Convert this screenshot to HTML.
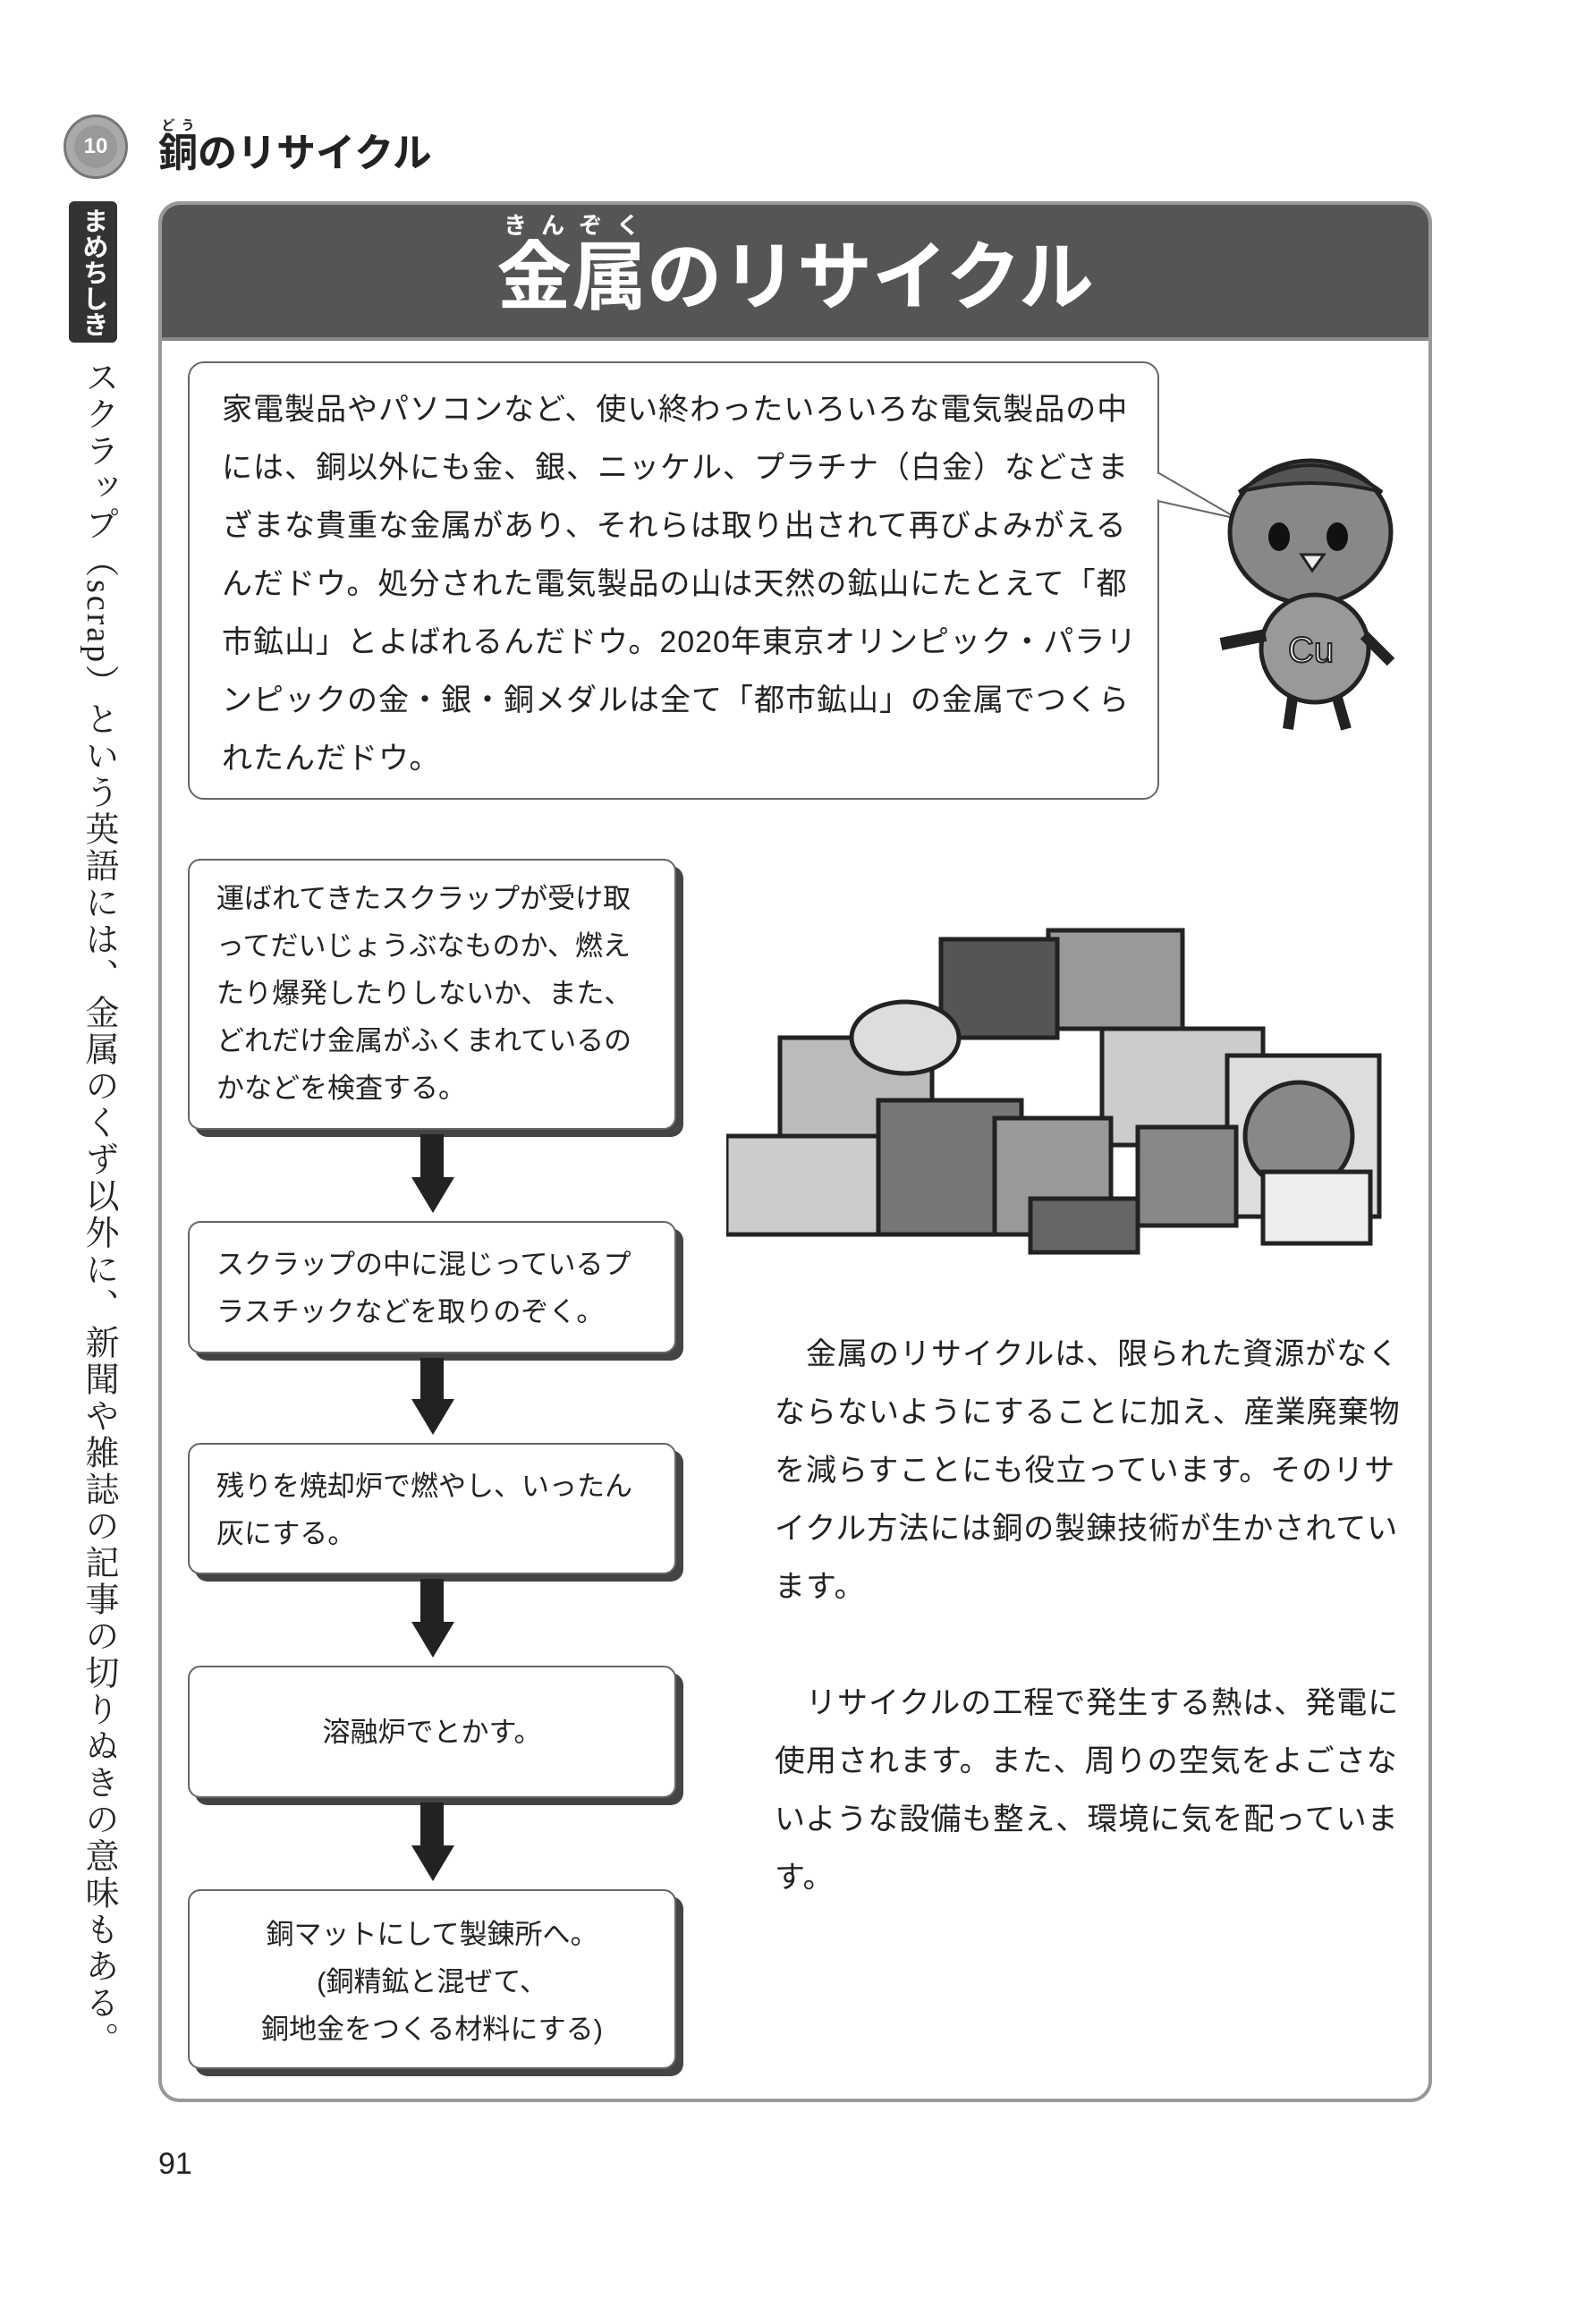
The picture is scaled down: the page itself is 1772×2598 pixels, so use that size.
<!DOCTYPE html>
<html><head><meta charset="utf-8">
<style>
body{margin:0;background:#fff;}
#p{position:relative;width:1772px;height:2598px;overflow:hidden;font-family:"Liberation Sans","Noto Sans CJK JP",sans-serif;color:#222;}
.a{position:absolute;}
rt{font-size:15px;}
.box{position:absolute;left:210px;width:546px;border:2px solid #666;border-radius:14px;background:#fff;box-shadow:8px 8px 0 #444;font-size:31px;line-height:53px;padding:16px 30px;box-sizing:border-box;white-space:nowrap;}
.arr{position:absolute;left:470px;width:26px;background:#222;}
.ah{position:absolute;left:460px;width:0;height:0;border-left:24px solid transparent;border-right:24px solid transparent;border-top:40px solid #222;}
.txt{font-size:34px;line-height:65px;white-space:nowrap;letter-spacing:1px;}
</style></head><body><div id="p">
<div class="a" style="left:71px;top:128px;width:72px;height:72px;border-radius:50%;background:#aaa;border:3px solid #777;box-sizing:border-box;"></div>
<div class="a" style="left:83px;top:140px;width:48px;height:48px;border-radius:50%;background:#999;color:#fff;font-size:24px;font-weight:bold;text-align:center;line-height:48px;">10</div>
<div class="a" style="left:177px;top:132px;font-size:44px;font-weight:bold;"><ruby>銅<rt>どう</rt></ruby>のリサイクル</div>
<div class="a" style="left:77px;top:225px;width:54px;height:158px;background:#333;border-radius:6px;color:#fff;writing-mode:vertical-rl;font-size:29px;font-weight:bold;line-height:54px;text-align:center;white-space:nowrap;">まめちしき</div>
<div class="a" style="left:84px;top:402px;height:1780px;writing-mode:vertical-rl;font-size:38px;letter-spacing:3px;line-height:52px;white-space:nowrap;font-family:'Liberation Serif','Noto Serif CJK SC',serif;">スクラップ（scrap）という英語には、金属のくず以外に、新聞や雑誌の記事の切りぬきの意味もある。</div>
<div class="a" style="left:177px;top:225px;width:1424px;height:2125px;border:4px solid #999;border-radius:24px;box-sizing:border-box;overflow:hidden;height:2125px;">
 <div style="height:148px;background:#555;border-bottom:4px solid #888;"></div>
</div>
<div class="a" style="left:177px;top:238px;width:1424px;text-align:center;color:#fff;font-size:84px;font-weight:bold;line-height:120px;"><ruby>金属<rt style="font-size:26px;">きんぞく</rt></ruby>のリサイクル</div>
<div class="a txt" style="left:210px;top:404px;width:1086px;height:490px;border:2px solid #666;border-radius:18px;box-sizing:border-box;padding:20px 0 0 36px;">家電製品やパソコンなど、使い終わったいろいろな電気製品の中<br>には、銅以外にも金、銀、ニッケル、プラチナ（白金）などさま<br>ざまな貴重な金属があり、それらは取り出されて再びよみがえる<br>んだドウ。処分された電気製品の山は天然の鉱山にたとえて「都<br>市鉱山」とよばれるんだドウ。2020年東京オリンピック・パラリ<br>ンピックの金・銀・銅メダルは全て「都市鉱山」の金属でつくら<br>れたんだドウ。</div>
<svg class="a" style="left:1294px;top:520px" width="100" height="70"><polygon points="0,8 90,60 0,40" fill="#fff" stroke="#666" stroke-width="2"/><line x1="0" y1="10" x2="0" y2="38" stroke="#fff" stroke-width="4"/></svg>
<svg class="a" style="left:1345px;top:500px" width="240" height="330">
<ellipse cx="120" cy="95" rx="90" ry="80" fill="#888" stroke="#222" stroke-width="5"/>
<path d="M40 50 Q120 -10 200 50 Q120 30 40 50" fill="#555" stroke="#222" stroke-width="4"/>
<ellipse cx="85" cy="100" rx="12" ry="16" fill="#111"/><ellipse cx="150" cy="100" rx="12" ry="16" fill="#111"/>
<polygon points="110,120 135,120 122,138" fill="#eee" stroke="#222" stroke-width="3"/>
<ellipse cx="125" cy="225" rx="60" ry="60" fill="#999" stroke="#222" stroke-width="5"/>
<text x="95" y="240" font-size="40" font-family="Liberation Sans" fill="#fff" stroke="#222" stroke-width="2">Cu</text>
<path d="M70 210 L20 220" stroke="#222" stroke-width="14"/><path d="M180 210 L210 240" stroke="#222" stroke-width="12"/>
<path d="M100 280 L95 315 M150 280 L160 315" stroke="#222" stroke-width="12"/>
</svg>
<div class="box" style="top:960px;height:303px;">運ばれてきたスクラップが受け取<br>ってだいじょうぶなものか、燃え<br>たり爆発したりしないか、また、<br>どれだけ金属がふくまれているの<br>かなどを検査する。</div>
<div class="arr" style="top:1268px;height:50px;"></div><div class="ah" style="top:1316px;"></div>
<div class="box" style="top:1365px;height:148px;padding-top:20px;">スクラップの中に混じっているプ<br>ラスチックなどを取りのぞく。</div>
<div class="arr" style="top:1518px;height:48px;"></div><div class="ah" style="top:1564px;"></div>
<div class="box" style="top:1613px;height:147px;padding-top:20px;">残りを焼却炉で燃やし、いったん<br>灰にする。</div>
<div class="arr" style="top:1765px;height:50px;"></div><div class="ah" style="top:1813px;"></div>
<div class="box" style="top:1862px;height:148px;padding-top:46px;text-align:center;">溶融炉でとかす。</div>
<div class="arr" style="top:2015px;height:50px;"></div><div class="ah" style="top:2063px;"></div>
<div class="box" style="top:2112px;height:201px;text-align:center;padding-top:22px;">銅マットにして製錬所へ。<br>(銅精鉱と混ぜて、<br>銅地金をつくる材料にする)</div>
<svg class="a" style="left:812px;top:1000px" width="740" height="405">
<g stroke="#222" stroke-width="5" fill="#bbb">
<rect x="360" y="40" width="150" height="110" fill="#999"/>
<rect x="60" y="160" width="170" height="120"/>
<rect x="420" y="150" width="180" height="130" fill="#ccc"/>
<rect x="560" y="180" width="170" height="180" fill="#ddd"/>
<circle cx="640" cy="270" r="60" fill="#888"/>
<rect x="240" y="50" width="130" height="110" fill="#555"/>
<ellipse cx="200" cy="160" rx="60" ry="40" fill="#ddd"/>
<rect x="0" y="270" width="180" height="110" fill="#ccc"/>
<rect x="170" y="230" width="160" height="150" fill="#777"/>
<rect x="300" y="250" width="130" height="130" fill="#999"/>
<rect x="460" y="260" width="110" height="110" fill="#888"/>
<rect x="340" y="340" width="120" height="60" fill="#666"/>
<rect x="600" y="310" width="120" height="80" fill="#eee"/>
</g></svg>
<div class="a txt" style="left:866px;top:1482px;">　金属のリサイクルは、限られた資源がなく<br>ならないようにすることに加え、産業廃棄物<br>を減らすことにも役立っています。そのリサ<br>イクル方法には銅の製錬技術が生かされてい<br>ます。</div>
<div class="a txt" style="left:866px;top:1872px;">　リサイクルの工程で発生する熱は、発電に<br>使用されます。また、周りの空気をよごさな<br>いような設備も整え、環境に気を配っていま<br>す。</div>
<div class="a" style="left:177px;top:2400px;font-size:34px;">91</div>
</div></body></html>
